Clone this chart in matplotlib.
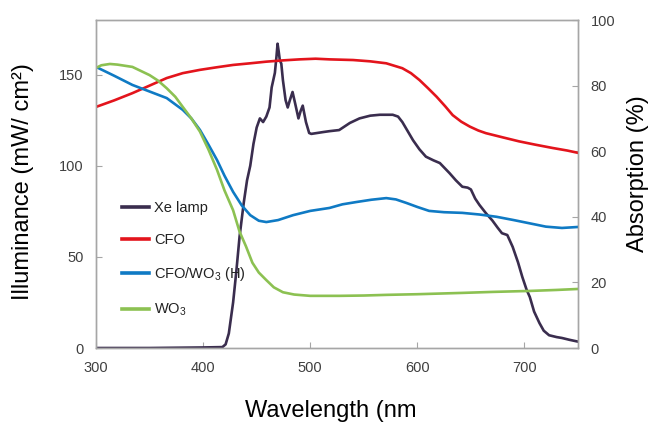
import matplotlib
matplotlib.use("Agg")
import matplotlib.pyplot as plt

plt.rcParams['font.family'] = ['Liberation Sans', 'DejaVu Sans']
plt.rcParams['mathtext.fontset'] = 'custom'
plt.rcParams['mathtext.rm'] = 'Liberation Sans'
plt.rcParams['mathtext.it'] = 'Liberation Sans:italic'
plt.rcParams['mathtext.bf'] = 'Liberation Sans:bold'

# ---- data ----
xe_wl = [300, 350, 400, 418, 421, 424, 428, 431, 434, 438, 441, 444, 447, 450, 453, 456, 459, 462, 464,
         467, 468.5, 469.5, 470.5, 471.6, 473, 474.5, 477, 479, 481, 483.5, 486, 489, 491, 493, 496, 499,
         501, 512, 518, 527, 537, 546, 556, 565, 577, 582, 586, 591, 596, 602, 608, 615, 621, 630, 636,
         642, 647, 650, 654, 658, 664, 670, 675, 679, 684, 689, 694, 698, 702, 705, 709, 714, 718, 723,
         730, 735, 742, 750]
xe_val = [0, 0, 0.3, 0.5, 2, 8, 25, 42, 61, 80, 92, 100, 112, 121, 126, 124, 127, 132, 143,
          151, 160, 167, 163, 158, 156, 147, 136, 132, 136, 140.5, 134, 126, 130, 133, 124, 118,
          117.5, 118.5, 119, 119.6, 123.5, 126, 127.5, 128, 128, 127, 124, 119, 114, 109, 105, 103, 101.5, 96, 92,
          88.5, 88, 87, 82, 78.5, 74, 70, 66, 63, 62, 55.5, 47, 39, 32, 28, 20, 13.7, 9.5, 7,
          6, 5.5, 4.5, 3.5]

cfo_wl = [300, 317, 334, 350, 366, 381, 397, 413, 428, 444, 459, 475, 490, 505, 518, 540, 556, 571, 586,
          594, 602, 610, 618, 626, 633, 641, 649, 657, 664, 680, 695, 710, 726, 740, 750]
cfo_val = [73.5, 75.5, 77.7, 80, 82.3, 83.8, 84.8, 85.6, 86.3, 86.8, 87.3, 87.7, 88, 88.2, 88, 87.8, 87.4,
           86.8, 85.3, 83.8, 81.7, 79.2, 76.6, 73.7, 71, 69, 67.5, 66.3, 65.5, 64.2, 63, 62, 61, 60.2, 59.5]

cw_wl = [300, 317, 334, 350, 366, 381, 389, 397, 405, 413, 420, 428, 436, 444, 452, 459, 470, 484, 500,
         518, 530, 543, 557, 571, 580, 590, 600, 611, 625, 642, 658, 674, 690, 705, 720, 735, 750]
cw_val = [85.7, 83, 80.2, 78.2, 76.2, 72.6, 70, 66.5, 62, 57.3, 52.5, 47.6, 43.5, 40.5, 38.8, 38.4, 39,
          40.5, 41.8, 42.7, 43.8, 44.5, 45.2, 45.7, 45.3, 44.2, 43, 41.8, 41.4, 41.2, 40.7, 40, 39, 38,
          37, 36.6, 36.9]

wo_wl = [300, 305, 313, 320, 334, 350, 358, 366, 374, 381, 389, 397, 405, 413, 420, 428, 434, 440, 446,
         452, 459, 466, 474.5, 485, 500, 527, 550, 571, 600, 642, 670, 705, 730, 750]
wo_val = [85.4, 86.2, 86.6, 86.4, 85.7, 83.2, 81.5, 79.2, 76.6, 73.5, 70, 66, 60.5, 54.3, 48, 42, 35.5,
          31, 26, 23, 20.7, 18.5, 17, 16.3, 15.9, 15.9, 16, 16.2, 16.4, 16.8, 17.1, 17.4, 17.7, 18]

labels = ["Xe lamp", "CFO", "CFO/WO$_3$ (H)", "WO$_3$"]
colors = ["#3a2d4e", "#e3141c", "#0f7ac4", "#8cc152"]

x_ticks = [300, 400, 500, 600, 700]
yl_ticks = [0, 50, 100, 150]
yr_ticks = [0, 20, 40, 60, 80, 100]

# ---- figure ----
fig = plt.figure(figsize=(6.54, 4.23), dpi=100)
ax = fig.add_axes([0.1468, 0.1773, 0.7370, 0.7754])
ax2 = ax.twinx()

lw = 1.9
h0, = ax.plot(xe_wl, xe_val, color=colors[0], lw=lw, label=labels[0])
h1, = ax2.plot(cfo_wl, cfo_val, color=colors[1], lw=lw, label=labels[1])
h2, = ax2.plot(cw_wl, cw_val, color=colors[2], lw=lw, label=labels[2])
h3, = ax2.plot(wo_wl, wo_val, color=colors[3], lw=lw, label=labels[3])

ax.set_xlim(300, 750)
ax.set_ylim(0, 180)
ax2.set_ylim(0, 100)
ax.set_xticks(x_ticks)
ax.set_yticks(yl_ticks)
ax2.set_yticks(yr_ticks)

spine_c = "#a6a6a6"
for a in (ax, ax2):
    for s in a.spines.values():
        s.set_color(spine_c)
        s.set_linewidth(1.0)
    a.tick_params(direction='in', length=4, color=spine_c, labelcolor="#404040",
                  labelsize=10.5, pad=9)

fig.text(0.505, 0.003, "Wavelength (nm", fontsize=17, ha='center', va='bottom', color='black')
fig.text(0.035, 0.57, "Illuminance (mW/ cm\u00b2)", fontsize=17, rotation=90,
         ha='center', va='center', color='black')
fig.text(0.976, 0.59, "Absorption (%)", fontsize=17, rotation=90,
         ha='center', va='center', color='black')

leg = ax.legend(handles=[h0, h1, h2, h3], loc='upper left',
                bbox_to_anchor=(0.186, 0.525), bbox_transform=fig.transFigure,
                frameon=False, fontsize=10.5, handlelength=1.9, handletextpad=0.35,
                labelspacing=1.25, borderpad=0, borderaxespad=0)
for t in leg.get_texts():
    t.set_color("#222222")
for l in leg.get_lines():
    l.set_linewidth(2.6)

fig.savefig("out.png", dpi=100)
